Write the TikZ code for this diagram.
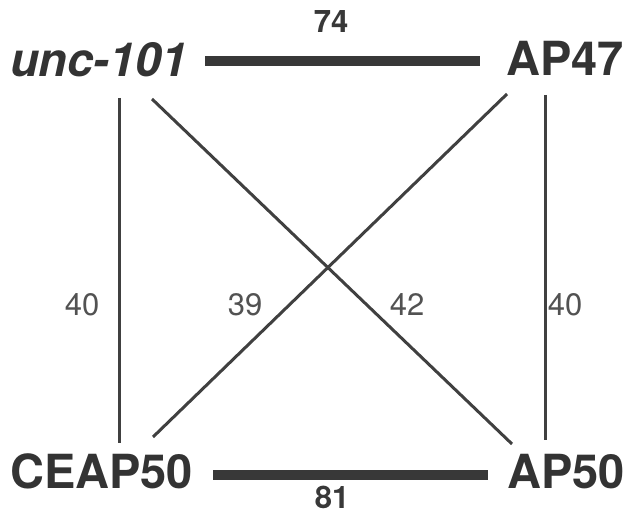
\documentclass[tikz,border=0pt]{standalone}
\usepackage{fontspec}
\setmainfont{TeX Gyre Heros}
\begin{document}
\begin{tikzpicture}[x=1pt,y=-1pt,
  gene/.style={inner sep=0pt, text=black!80, font=\fontsize{47}{50}\selectfont\bfseries},
  score/.style={inner sep=0pt, text=black!68, font=\fontsize{31}{34}\selectfont},
  bscore/.style={inner sep=0pt, text=black!78, font=\fontsize{31}{34}\selectfont\bfseries},
  bar/.style={line width=10pt, draw=black!78},
  thin/.style={line width=2.2pt, draw=black!75},
  diag/.style={line width=3pt, draw=black!75}]
\useasboundingbox (0,0) rectangle (630,518);
% gene names
\node[gene, anchor=base west] (unc) at (10,77) {\itshape unc-101};
\node[gene, anchor=base east] (ap47) at (624,76) {AP47};
\node[gene, anchor=base west] (ceap) at (10,489) {CEAP50};
\node[gene, anchor=base east] (ap50) at (625,489) {AP50};
% connector end points
\coordinate (bt1) at (205,61.5);
\coordinate (bt2) at (480,61.5);
\coordinate (bb1) at (213,475);
\coordinate (bb2) at (488,475);
\coordinate (lv1) at (119.5,98);
\coordinate (lv2) at (119.5,443);
\coordinate (rv1) at (545.5,95);
\coordinate (rv2) at (545.5,440);
\coordinate (d1a) at (152,99);
\coordinate (d1b) at (512,444);
\coordinate (d2a) at (507,94);
\coordinate (d2b) at (153,437);
% connectors
\draw[bar] (bt1) -- (bt2);
\draw[bar] (bb1) -- (bb2);
\draw[thin] (lv1) -- (lv2);
\draw[thin] (rv1) -- (rv2);
\draw[diag] (d1a) -- (d1b);
\draw[diag] (d2a) -- (d2b);
% scores
\node[bscore, anchor=base] (s74) at (331,33) {74};
\node[bscore, anchor=base] (s81) at (332,509) {81};
\node[score, anchor=base] (s40l) at (82,316) {40};
\node[score, anchor=base] (s39) at (245,316) {39};
\node[score, anchor=base] (s42) at (407,316) {42};
\node[score, anchor=base] (s40r) at (565,316) {40};
\end{tikzpicture}
\end{document}
